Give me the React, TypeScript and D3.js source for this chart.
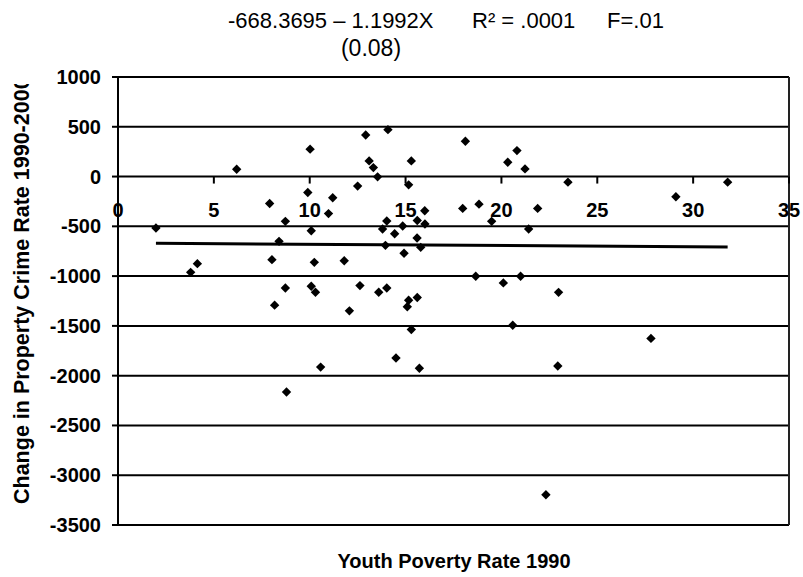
import React from "react";
import * as d3 from "d3";

const povertyRate = [
  1.98, 3.79, 4.14, 6.19, 7.91, 8.03, 8.17, 8.4, 8.73, 8.73, 8.79, 9.9, 10.02, 10.08, 10.08, 10.24, 10.3, 10.57,
  10.98, 11.2, 11.8, 12.07, 12.5, 12.62, 12.92, 13.1, 13.32, 13.54, 13.6, 13.8, 13.95, 14.02, 14.02, 14.08, 14.43,
  14.5, 14.85, 14.92, 15.09, 15.16, 15.16, 15.3, 15.3, 15.6, 15.61, 15.61, 15.72, 15.79, 16.0, 16.01, 17.98, 18.12,
  18.66, 18.83, 19.49, 20.1, 20.33, 20.59, 20.81, 21.0, 21.23, 21.42, 21.89, 22.32, 22.98, 22.94, 23.47, 27.8, 29.1, 31.8,
];
const crimeChange = [
  -517, -962, -875, 74, -270, -835, -1292, -651, -450, -1120, -2164, -160, 275, -544, -1102, -862, -1162, -1914,
  -372, -213, -846, -1349, -96, -1095, 418, 157, 90, -3, -1162, -527, -691, -447, -1120, 471, -574,
  -1823, -497, -771, -1308, -83, -1242, 157, -1536, -617, -441, -1215, -1926, -711, -344, -477, -320, 355,
  -1002, -277, -450, -1068, 144, -1493, 261, -1002, 77, -527, -320, -3196, -1163, -1903, -56, -1626, -203, -56,
];
const xTicks = [0, 5, 10, 15, 20, 25, 30, 35];
const yTicks = [1000, 500, 0, -500, -1000, -1500, -2000, -2500, -3000, -3500];
const intercept = -668.3695;
const slope = -1.1992;
const titleParts = ["-668.3695 \u2013 1.1992X", "R\u00b2 = .0001", "F=.01"];
const subtitle = "(0.08)";
const xTitle = "Youth Poverty Rate 1990";
const yTitle = "Change in Property Crime Rate 1990-2000";

export default function App() {
  const W = 803, H = 577;
  const left = 118, right = 789, top = 77, bottom = 525;
  const x = d3.scaleLinear().domain([0, 35]).range([left, right]);
  const y = d3.scaleLinear().domain([-3500, 1000]).range([bottom, top]);
  const font = "'Liberation Sans', Arial, sans-serif";
  const diamond = d3.symbol().type(d3.symbolSquare).size(44)() as string;
  const xs = d3.extent(povertyRate) as [number, number];
  const line = d3.line<number>().x((d) => x(d)).y((d) => y(intercept + slope * d));
  const y0 = y(0);

  return (
    <svg width={W} height={H} style={{ position: "absolute", left: 0, top: 0, background: "#fff" }}>
      <defs>
        <clipPath id="ylab">
          <rect x={0} y={84} width={60} height={493} />
        </clipPath>
      </defs>
      <rect x={0} y={0} width={W} height={H} fill="#fff" />
      {/* title */}
      <g fontFamily={font} fontSize={22} fill="#000">
        <text x={228} y={28}>{titleParts[0]}</text>
        <text x={472} y={28}>{titleParts[1]}</text>
        <text x={607} y={28}>{titleParts[2]}</text>
        <text x={371} y={56} textAnchor="middle" fontSize={23}>{subtitle}</text>
      </g>
      {/* gridlines */}
      {yTicks.map((t) => (
        <line key={"g" + t} x1={left} x2={right} y1={y(t)} y2={y(t)} stroke="#000" strokeWidth={2} />
      ))}
      {/* right border */}
      <line x1={right} x2={right} y1={top} y2={bottom} stroke="#222" strokeWidth={2} />
      {/* y axis */}
      <line x1={left} x2={left} y1={top} y2={bottom} stroke="#000" strokeWidth={2} />
      {yTicks.map((t) => (
        <g key={"yt" + t}>
          <line x1={left - 6} x2={left} y1={y(t)} y2={y(t)} stroke="#000" strokeWidth={2} />
          <text x={101} y={y(t) + 7} textAnchor="end" fontFamily={font} fontWeight="bold" fontSize={20}>
            {t}
          </text>
        </g>
      ))}
      {/* x axis ticks at zero */}
      {xTicks.map((t) => (
        <g key={"xt" + t}>
          <line x1={x(t)} x2={x(t)} y1={y0} y2={y0 + 7} stroke="#000" strokeWidth={2} />
          <text x={x(t)} y={y0 + 40} textAnchor="middle" fontFamily={font} fontWeight="bold" fontSize={20}>
            {t}
          </text>
        </g>
      ))}
      {/* regression line */}
      <path d={line(xs) || ""} fill="none" stroke="#000" strokeWidth={3} />
      {/* points */}
      {povertyRate.map((v, i) => (
        <path
          key={"p" + i}
          d={diamond}
          transform={`translate(${x(v)},${y(crimeChange[i])}) rotate(45)`}
          fill="#000"
        />
      ))}
      {/* axis titles */}
      <text x={454} y={568} textAnchor="middle" fontFamily={font} fontWeight="bold" fontSize={20}>
        {xTitle}
      </text>
      <g clipPath="url(#ylab)">
        <text
          transform={`translate(29,504) rotate(-90)`}
          textAnchor="start"
          fontFamily={font}
          fontWeight="bold"
          fontSize={21.5}
        >
          {yTitle}
        </text>
      </g>
    </svg>
  );
}
